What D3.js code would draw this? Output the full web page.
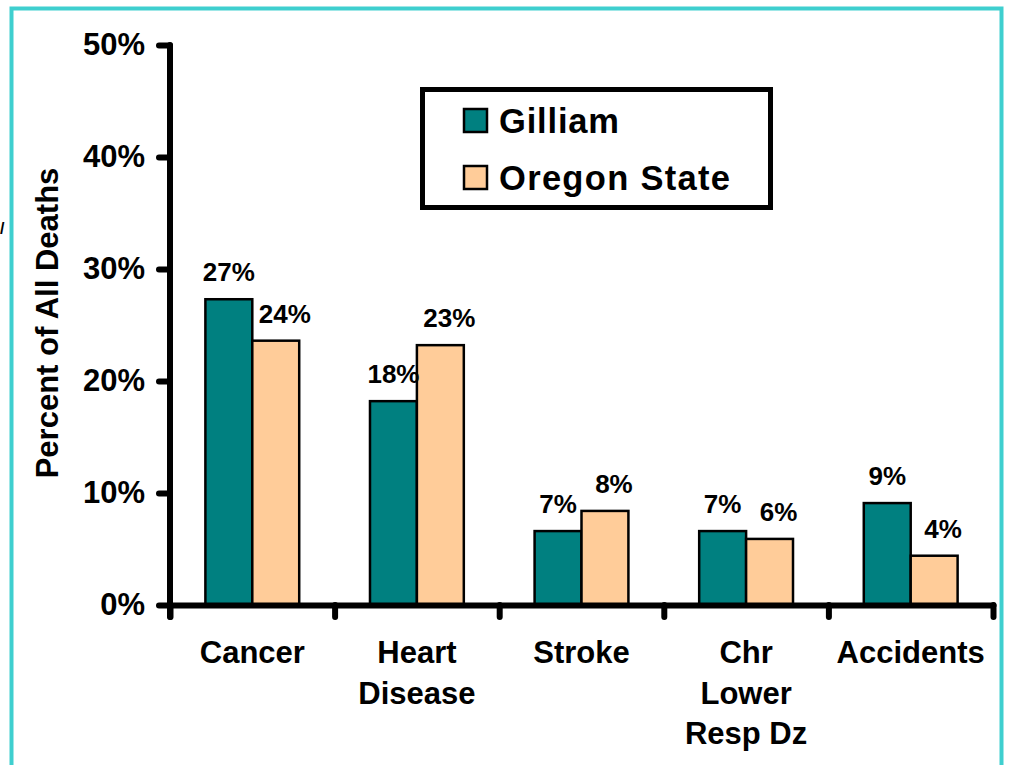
<!DOCTYPE html>
<html>
<head>
<meta charset="utf-8">
<script src="https://cdn.jsdelivr.net/npm/d3@7"></script>
<style>
  body { margin: 0; background: #fff; }
  svg { display: block; font-family: Arial, "Liberation Sans", sans-serif; font-weight: bold; }
</style>
</head>
<body>
<svg width="1010" height="765"></svg>
<script>
// categorias y series
var categories = [["Cancer"], ["Heart", "Disease"], ["Stroke"], ["Chr", "Lower", "Resp Dz"], ["Accidents"]];
var seriesNames = ["Gilliam", "Oregon State"];
var gilliam = [27.3, 18.2, 6.6, 6.6, 9.1];
var oregon = [23.6, 23.2, 8.4, 5.9, 4.4];
var yTicks = [0, 10, 20, 30, 40, 50];
var colors = ["#008080", "#FFCC99"];

var svg = d3.select("svg");

// marco turquesa
svg.append("path")
   .attr("d", "M11.5,1000 V8.5 H1001.5 V765")
   .attr("fill", "none")
   .attr("stroke", "#3FCFCF")
   .attr("stroke-width", 4);

// trozo de texto a la izquierda
svg.append("text").attr("x", 0).attr("y", 234).attr("font-size", 16).text("/");

var x = d3.scaleLinear().domain([0, categories.length]).range([170, 993]);
var x0 = d3.scaleBand()
           .domain(d3.range(categories.length))
           .range([170, 993])
           .paddingInner(0.43)
           .paddingOuter(0.215);
var x1 = d3.scaleBand().domain([0, 1]).range([0, x0.bandwidth()]);
var y = d3.scaleLinear().domain([0, 50]).range([605, 45]);

var data = categories.map(function(c, i) {
	return { cat: c, values: [gilliam[i], oregon[i]] };
});

// barras
var group = svg.selectAll(".cat")
	.data(data)
	.enter().append("g")
	  .attr("class", "cat")
	  .attr("transform", function(d, i) { return "translate(" + x0(i) + ",0)"; });

group.selectAll("rect")
	.data(function(d) { return d.values; })
	.enter().append("rect")
	  .attr("x", function(d, j) { return x1(j); })
	  .attr("y", function(d) { return y(d); })
	  .attr("width", x1.bandwidth())
	  .attr("height", function(d) { return y(0) - y(d); })
	  .attr("fill", function(d, j) { return colors[j]; })
	  .attr("stroke", "#000")
	  .attr("stroke-width", 2.5);

group.selectAll(".val")
	.data(function(d) { return d.values; })
	.enter().append("text")
	  .attr("class", "val")
	  .attr("x", function(d, j) { return x1(j) + x1.bandwidth() / 2 + (j == 1 ? 9 : 0); })
	  .attr("y", function(d) { return y(d) - 18; })
	  .attr("text-anchor", "middle")
	  .attr("font-size", 26)
	  .text(function(d) { return Math.round(d) + "%"; });

// eje y
var yAxis = svg.append("g")
	.attr("transform", "translate(170,0)")
	.call(d3.axisLeft(y).tickValues(yTicks).tickSize(11).tickSizeOuter(0).tickPadding(14)
	        .tickFormat(function(d) { return d + "%"; }));

// eje x
var xAxis = svg.append("g")
	.attr("transform", "translate(0,605)")
	.call(d3.axisBottom(x).tickValues(d3.range(categories.length + 1)).tickSize(12).tickSizeOuter(0).tickFormat(""));

[yAxis, xAxis].forEach(function(a) {
	a.select(".domain").attr("stroke", "#000").attr("stroke-width", 6).attr("stroke-linecap", "round");
	a.selectAll(".tick line").attr("stroke", "#000").attr("stroke-width", 6).attr("stroke-linecap", "round");
	a.selectAll("text").attr("font-size", 31).attr("font-weight", "bold").attr("fill", "#000")
	 .attr("font-family", "Arial, 'Liberation Sans', sans-serif");
});
yAxis.select(".domain").attr("d", "M0,45V617");

// etiquetas de categorias
svg.selectAll(".catlabel")
	.data(categories)
	.enter().append("text")
	  .attr("class", "catlabel")
	  .attr("text-anchor", "middle")
	  .attr("font-size", 31)
	  .attr("transform", function(d, i) { return "translate(" + (x0(i) + x0.bandwidth() / 2) + ",663)"; })
	.selectAll("tspan")
	.data(function(d) { return d; })
	.enter().append("tspan")
	  .attr("x", 0)
	  .attr("y", function(d, k) { return k * 40.5; })
	  .text(function(d) { return d; });

// titulo eje y
svg.append("text")
   .attr("transform", "translate(58,323) rotate(-90)")
   .attr("text-anchor", "middle")
   .attr("font-size", 31)
   .text("Percent of All Deaths");

// leyenda
var legend = svg.append("g");
legend.append("rect")
   .attr("x", 422.5).attr("y", 89.5)
   .attr("width", 348).attr("height", 118)
   .attr("fill", "#fff").attr("stroke", "#000").attr("stroke-width", 5);

var legendWidths = [120, 231];

var item = legend.selectAll(".item")
	.data(seriesNames)
	.enter().append("g")
	  .attr("class", "item")
	  .attr("transform", function(d, i) { return "translate(464," + (109 + i * 57) + ")"; });

item.append("rect")
	.attr("width", 23).attr("height", 23)
	.attr("fill", function(d, i) { return colors[i]; })
	.attr("stroke", "#000").attr("stroke-width", 2.5);

item.append("text")
	.attr("x", 35).attr("y", 24)
	.attr("font-size", 34.5)
	.attr("textLength", function(d, i) { return legendWidths[i]; })
	.attr("lengthAdjust", "spacing")
	.text(function(d) { return d; });
</script>
</body>
</html>
